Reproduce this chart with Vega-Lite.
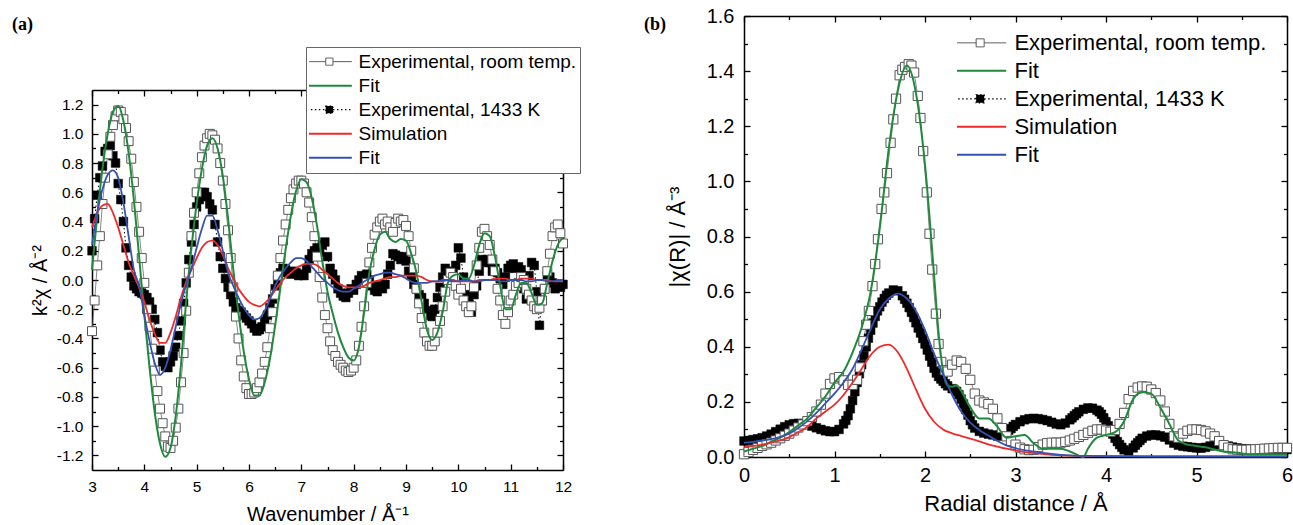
{
"$schema": "https://vega.github.io/schema/vega-lite/v6.json",
"background": "white",
"padding": {"left": 12, "top": 6, "right": 2, "bottom": 3},
"config": {"font": "Liberation Sans", "view": {"stroke": null},
 "axis": {"domainColor": "black", "tickColor": "black", "labelColor": "black", "titleColor": "black", "grid": false, "labelFont": "Liberation Sans", "titleFont": "Liberation Sans", "titleFontWeight": "normal", "tickWidth": 1.3, "domainWidth": 1.5}},
"datasets": {
"art": [{"x":3.00,"y":-0.35},{"x":3.05,"y":-0.14},{"x":3.10,"y":0.10},{"x":3.15,"y":0.30},{"x":3.20,"y":0.52},{"x":3.25,"y":0.70},{"x":3.30,"y":0.86},{"x":3.35,"y":0.98},{"x":3.40,"y":1.06},{"x":3.45,"y":1.12},{"x":3.50,"y":1.16},{"x":3.55,"y":1.15},{"x":3.60,"y":1.10},{"x":3.65,"y":1.04},{"x":3.70,"y":0.95},{"x":3.75,"y":0.83},{"x":3.80,"y":0.67},{"x":3.85,"y":0.50},{"x":3.90,"y":0.33},{"x":3.95,"y":0.15},{"x":4.00,"y":-0.02},{"x":4.05,"y":-0.20},{"x":4.10,"y":-0.32},{"x":4.15,"y":-0.47},{"x":4.20,"y":-0.62},{"x":4.25,"y":-0.76},{"x":4.30,"y":-0.88},{"x":4.35,"y":-0.98},{"x":4.40,"y":-1.07},{"x":4.45,"y":-1.14},{"x":4.50,"y":-1.15},{"x":4.55,"y":-1.10},{"x":4.60,"y":-1.01},{"x":4.65,"y":-0.88},{"x":4.70,"y":-0.70},{"x":4.75,"y":-0.50},{"x":4.80,"y":-0.21},{"x":4.85,"y":0.05},{"x":4.90,"y":0.30},{"x":4.95,"y":0.46},{"x":5.00,"y":0.60},{"x":5.05,"y":0.73},{"x":5.10,"y":0.84},{"x":5.15,"y":0.92},{"x":5.20,"y":0.97},{"x":5.25,"y":1.00},{"x":5.30,"y":0.99},{"x":5.35,"y":0.96},{"x":5.40,"y":0.90},{"x":5.45,"y":0.80},{"x":5.50,"y":0.68},{"x":5.55,"y":0.52},{"x":5.60,"y":0.34},{"x":5.65,"y":0.15},{"x":5.70,"y":-0.05},{"x":5.75,"y":-0.25},{"x":5.80,"y":-0.40},{"x":5.85,"y":-0.55},{"x":5.90,"y":-0.66},{"x":5.95,"y":-0.74},{"x":6.00,"y":-0.78},{"x":6.05,"y":-0.78},{"x":6.10,"y":-0.77},{"x":6.15,"y":-0.74},{"x":6.20,"y":-0.70},{"x":6.25,"y":-0.64},{"x":6.30,"y":-0.56},{"x":6.35,"y":-0.46},{"x":6.40,"y":-0.33},{"x":6.45,"y":-0.22},{"x":6.50,"y":-0.10},{"x":6.55,"y":0.03},{"x":6.60,"y":0.15},{"x":6.65,"y":0.27},{"x":6.70,"y":0.38},{"x":6.75,"y":0.48},{"x":6.80,"y":0.56},{"x":6.85,"y":0.62},{"x":6.90,"y":0.66},{"x":6.95,"y":0.68},{"x":7.00,"y":0.68},{"x":7.05,"y":0.66},{"x":7.10,"y":0.60},{"x":7.15,"y":0.53},{"x":7.20,"y":0.43},{"x":7.25,"y":0.30},{"x":7.30,"y":0.16},{"x":7.35,"y":0.02},{"x":7.40,"y":-0.12},{"x":7.45,"y":-0.24},{"x":7.50,"y":-0.33},{"x":7.55,"y":-0.42},{"x":7.60,"y":-0.48},{"x":7.65,"y":-0.52},{"x":7.70,"y":-0.56},{"x":7.75,"y":-0.58},{"x":7.80,"y":-0.60},{"x":7.85,"y":-0.62},{"x":7.90,"y":-0.63},{"x":7.95,"y":-0.62},{"x":8.00,"y":-0.60},{"x":8.05,"y":-0.55},{"x":8.10,"y":-0.45},{"x":8.15,"y":-0.32},{"x":8.20,"y":-0.18},{"x":8.25,"y":-0.02},{"x":8.30,"y":0.12},{"x":8.35,"y":0.22},{"x":8.40,"y":0.31},{"x":8.45,"y":0.36},{"x":8.50,"y":0.40},{"x":8.55,"y":0.42},{"x":8.60,"y":0.38},{"x":8.65,"y":0.40},{"x":8.70,"y":0.36},{"x":8.75,"y":0.33},{"x":8.80,"y":0.39},{"x":8.85,"y":0.42},{"x":8.90,"y":0.40},{"x":8.95,"y":0.41},{"x":9.00,"y":0.37},{"x":9.05,"y":0.30},{"x":9.10,"y":0.20},{"x":9.15,"y":0.08},{"x":9.20,"y":-0.06},{"x":9.25,"y":-0.16},{"x":9.30,"y":-0.26},{"x":9.35,"y":-0.36},{"x":9.40,"y":-0.42},{"x":9.45,"y":-0.45},{"x":9.50,"y":-0.45},{"x":9.55,"y":-0.42},{"x":9.60,"y":-0.36},{"x":9.65,"y":-0.28},{"x":9.70,"y":-0.18},{"x":9.75,"y":-0.08},{"x":9.80,"y":0.00},{"x":9.85,"y":0.05},{"x":9.90,"y":0.02},{"x":9.95,"y":-0.04},{"x":10.00,"y":-0.10},{"x":10.05,"y":-0.06},{"x":10.10,"y":-0.14},{"x":10.15,"y":-0.18},{"x":10.20,"y":-0.22},{"x":10.25,"y":-0.18},{"x":10.30,"y":-0.05},{"x":10.35,"y":0.10},{"x":10.40,"y":0.22},{"x":10.45,"y":0.33},{"x":10.50,"y":0.35},{"x":10.55,"y":0.30},{"x":10.60,"y":0.24},{"x":10.65,"y":0.14},{"x":10.70,"y":0.06},{"x":10.75,"y":-0.06},{"x":10.80,"y":-0.14},{"x":10.85,"y":-0.24},{"x":10.90,"y":-0.30},{"x":10.95,"y":-0.22},{"x":11.00,"y":-0.14},{"x":11.05,"y":-0.10},{"x":11.10,"y":-0.04},{"x":11.15,"y":-0.02},{"x":11.20,"y":0.02},{"x":11.25,"y":0.00},{"x":11.30,"y":-0.06},{"x":11.35,"y":-0.10},{"x":11.40,"y":-0.14},{"x":11.45,"y":-0.18},{"x":11.50,"y":-0.20},{"x":11.55,"y":-0.19},{"x":11.60,"y":-0.14},{"x":11.65,"y":-0.06},{"x":11.70,"y":0.06},{"x":11.75,"y":0.18},{"x":11.80,"y":0.30},{"x":11.85,"y":0.36},{"x":11.90,"y":0.38},{"x":11.95,"y":0.32},{"x":12.00,"y":0.25}],
"ahk": [{"x":3.00,"y":0.20},{"x":3.05,"y":0.42},{"x":3.10,"y":0.58},{"x":3.15,"y":0.70},{"x":3.20,"y":0.78},{"x":3.25,"y":0.88},{"x":3.30,"y":0.90},{"x":3.35,"y":0.92},{"x":3.40,"y":0.85},{"x":3.45,"y":0.80},{"x":3.50,"y":0.66},{"x":3.55,"y":0.55},{"x":3.60,"y":0.40},{"x":3.65,"y":0.22},{"x":3.70,"y":0.10},{"x":3.75,"y":0.02},{"x":3.80,"y":-0.04},{"x":3.85,"y":-0.06},{"x":3.90,"y":-0.08},{"x":3.95,"y":-0.09},{"x":4.00,"y":-0.10},{"x":4.05,"y":-0.12},{"x":4.10,"y":-0.15},{"x":4.15,"y":-0.20},{"x":4.20,"y":-0.27},{"x":4.25,"y":-0.36},{"x":4.30,"y":-0.48},{"x":4.35,"y":-0.56},{"x":4.40,"y":-0.59},{"x":4.45,"y":-0.60},{"x":4.50,"y":-0.56},{"x":4.55,"y":-0.52},{"x":4.60,"y":-0.46},{"x":4.65,"y":-0.38},{"x":4.70,"y":-0.28},{"x":4.75,"y":-0.16},{"x":4.80,"y":-0.02},{"x":4.85,"y":0.14},{"x":4.90,"y":0.26},{"x":4.95,"y":0.38},{"x":5.00,"y":0.50},{"x":5.05,"y":0.55},{"x":5.10,"y":0.60},{"x":5.15,"y":0.60},{"x":5.20,"y":0.57},{"x":5.25,"y":0.52},{"x":5.30,"y":0.48},{"x":5.35,"y":0.38},{"x":5.40,"y":0.26},{"x":5.45,"y":0.16},{"x":5.50,"y":0.08},{"x":5.55,"y":0.01},{"x":5.60,"y":-0.05},{"x":5.65,"y":-0.10},{"x":5.70,"y":-0.15},{"x":5.75,"y":-0.19},{"x":5.80,"y":-0.21},{"x":5.85,"y":-0.22},{"x":5.90,"y":-0.24},{"x":5.95,"y":-0.26},{"x":6.00,"y":-0.28},{"x":6.05,"y":-0.30},{"x":6.10,"y":-0.33},{"x":6.15,"y":-0.35},{"x":6.20,"y":-0.34},{"x":6.25,"y":-0.32},{"x":6.30,"y":-0.28},{"x":6.35,"y":-0.24},{"x":6.40,"y":-0.19},{"x":6.45,"y":-0.13},{"x":6.50,"y":-0.06},{"x":6.55,"y":0.00},{"x":6.60,"y":0.05},{"x":6.65,"y":0.08},{"x":6.70,"y":0.07},{"x":6.75,"y":0.05},{"x":6.80,"y":0.04},{"x":6.85,"y":0.06},{"x":6.90,"y":0.05},{"x":6.95,"y":0.03},{"x":7.00,"y":0.04},{"x":7.05,"y":0.03},{"x":7.10,"y":0.08},{"x":7.15,"y":0.14},{"x":7.20,"y":0.18},{"x":7.25,"y":0.20},{"x":7.30,"y":0.22},{"x":7.35,"y":0.19},{"x":7.40,"y":0.24},{"x":7.45,"y":0.26},{"x":7.50,"y":0.16},{"x":7.55,"y":0.08},{"x":7.60,"y":0.04},{"x":7.65,"y":0.00},{"x":7.70,"y":-0.06},{"x":7.75,"y":-0.09},{"x":7.80,"y":-0.11},{"x":7.85,"y":-0.12},{"x":7.90,"y":-0.09},{"x":7.95,"y":-0.06},{"x":8.00,"y":-0.07},{"x":8.05,"y":-0.03},{"x":8.10,"y":0.00},{"x":8.15,"y":0.03},{"x":8.20,"y":0.02},{"x":8.25,"y":0.04},{"x":8.30,"y":0.00},{"x":8.35,"y":-0.04},{"x":8.40,"y":-0.07},{"x":8.45,"y":-0.08},{"x":8.50,"y":-0.04},{"x":8.55,"y":-0.06},{"x":8.60,"y":-0.03},{"x":8.65,"y":0.04},{"x":8.70,"y":0.10},{"x":8.75,"y":0.18},{"x":8.80,"y":0.17},{"x":8.85,"y":0.16},{"x":8.90,"y":0.14},{"x":8.95,"y":0.16},{"x":9.00,"y":0.13},{"x":9.05,"y":0.06},{"x":9.10,"y":0.03},{"x":9.15,"y":-0.03},{"x":9.20,"y":-0.06},{"x":9.25,"y":-0.10},{"x":9.30,"y":-0.12},{"x":9.35,"y":-0.16},{"x":9.40,"y":-0.21},{"x":9.45,"y":-0.24},{"x":9.50,"y":-0.25},{"x":9.55,"y":-0.20},{"x":9.60,"y":-0.12},{"x":9.65,"y":-0.05},{"x":9.70,"y":0.02},{"x":9.75,"y":0.08},{"x":9.80,"y":0.04},{"x":9.85,"y":0.06},{"x":9.90,"y":0.04},{"x":9.95,"y":0.10},{"x":10.00,"y":0.22},{"x":10.05,"y":0.15},{"x":10.10,"y":0.02},{"x":10.15,"y":-0.10},{"x":10.20,"y":-0.16},{"x":10.25,"y":-0.22},{"x":10.30,"y":-0.10},{"x":10.35,"y":-0.04},{"x":10.40,"y":0.06},{"x":10.45,"y":0.14},{"x":10.50,"y":0.12},{"x":10.55,"y":0.14},{"x":10.60,"y":0.12},{"x":10.65,"y":0.06},{"x":10.70,"y":0.08},{"x":10.75,"y":0.05},{"x":10.80,"y":0.01},{"x":10.85,"y":-0.03},{"x":10.90,"y":0.02},{"x":10.95,"y":0.08},{"x":11.00,"y":0.10},{"x":11.05,"y":0.11},{"x":11.10,"y":0.08},{"x":11.15,"y":0.09},{"x":11.20,"y":0.07},{"x":11.25,"y":-0.06},{"x":11.30,"y":-0.13},{"x":11.35,"y":0.03},{"x":11.40,"y":0.12},{"x":11.45,"y":0.10},{"x":11.50,"y":-0.08},{"x":11.55,"y":-0.31},{"x":11.60,"y":-0.14},{"x":11.65,"y":-0.06},{"x":11.70,"y":0.03},{"x":11.75,"y":0.02},{"x":11.80,"y":-0.02},{"x":11.85,"y":-0.06},{"x":11.90,"y":-0.04},{"x":11.95,"y":-0.05},{"x":12.00,"y":-0.03}],
"ag": [{"x":3.0,"y":0.07},{"x":3.1,"y":0.44},{"x":3.2,"y":0.76},{"x":3.3,"y":1.00},{"x":3.4,"y":1.15},{"x":3.5,"y":1.19},{"x":3.6,"y":1.09},{"x":3.7,"y":0.87},{"x":3.8,"y":0.55},{"x":3.9,"y":0.16},{"x":4.0,"y":-0.24},{"x":4.1,"y":-0.60},{"x":4.2,"y":-0.91},{"x":4.3,"y":-1.12},{"x":4.4,"y":-1.21},{"x":4.5,"y":-1.15},{"x":4.6,"y":-0.93},{"x":4.7,"y":-0.58},{"x":4.8,"y":-0.14},{"x":4.9,"y":0.22},{"x":5.0,"y":0.52},{"x":5.1,"y":0.76},{"x":5.2,"y":0.92},{"x":5.3,"y":0.97},{"x":5.4,"y":0.90},{"x":5.5,"y":0.71},{"x":5.6,"y":0.42},{"x":5.7,"y":0.07},{"x":5.8,"y":-0.23},{"x":5.9,"y":-0.49},{"x":6.0,"y":-0.68},{"x":6.1,"y":-0.79},{"x":6.2,"y":-0.79},{"x":6.3,"y":-0.70},{"x":6.4,"y":-0.54},{"x":6.5,"y":-0.31},{"x":6.6,"y":-0.05},{"x":6.7,"y":0.21},{"x":6.8,"y":0.44},{"x":6.9,"y":0.61},{"x":7.0,"y":0.69},{"x":7.1,"y":0.67},{"x":7.2,"y":0.56},{"x":7.3,"y":0.37},{"x":7.4,"y":0.13},{"x":7.5,"y":-0.08},{"x":7.6,"y":-0.23},{"x":7.7,"y":-0.36},{"x":7.8,"y":-0.46},{"x":7.9,"y":-0.53},{"x":8.0,"y":-0.55},{"x":8.1,"y":-0.46},{"x":8.2,"y":-0.22},{"x":8.3,"y":0.05},{"x":8.4,"y":0.21},{"x":8.5,"y":0.31},{"x":8.6,"y":0.33},{"x":8.7,"y":0.28},{"x":8.8,"y":0.26},{"x":8.9,"y":0.28},{"x":9.0,"y":0.27},{"x":9.1,"y":0.18},{"x":9.2,"y":0.05},{"x":9.3,"y":-0.15},{"x":9.4,"y":-0.34},{"x":9.5,"y":-0.41},{"x":9.6,"y":-0.36},{"x":9.7,"y":-0.22},{"x":9.8,"y":-0.02},{"x":9.9,"y":0.03},{"x":10.0,"y":0.04},{"x":10.1,"y":0.01},{"x":10.2,"y":0.01},{"x":10.3,"y":0.10},{"x":10.4,"y":0.24},{"x":10.5,"y":0.32},{"x":10.6,"y":0.30},{"x":10.7,"y":0.16},{"x":10.8,"y":-0.04},{"x":10.9,"y":-0.20},{"x":11.0,"y":-0.20},{"x":11.1,"y":-0.10},{"x":11.2,"y":-0.02},{"x":11.3,"y":-0.02},{"x":11.4,"y":-0.09},{"x":11.5,"y":-0.17},{"x":11.6,"y":-0.16},{"x":11.7,"y":-0.02},{"x":11.8,"y":0.13},{"x":11.9,"y":0.24},{"x":12.0,"y":0.29}],
"ar": [{"x":3.0,"y":0.36},{"x":3.1,"y":0.46},{"x":3.2,"y":0.51},{"x":3.3,"y":0.52},{"x":3.4,"y":0.46},{"x":3.5,"y":0.36},{"x":3.6,"y":0.24},{"x":3.7,"y":0.12},{"x":3.8,"y":0.03},{"x":3.9,"y":-0.05},{"x":4.0,"y":-0.15},{"x":4.1,"y":-0.27},{"x":4.2,"y":-0.37},{"x":4.3,"y":-0.43},{"x":4.4,"y":-0.43},{"x":4.5,"y":-0.36},{"x":4.6,"y":-0.25},{"x":4.7,"y":-0.12},{"x":4.8,"y":-0.01},{"x":4.9,"y":0.07},{"x":5.0,"y":0.15},{"x":5.1,"y":0.22},{"x":5.2,"y":0.26},{"x":5.3,"y":0.27},{"x":5.4,"y":0.24},{"x":5.5,"y":0.17},{"x":5.6,"y":0.08},{"x":5.7,"y":0.01},{"x":5.8,"y":-0.06},{"x":5.9,"y":-0.11},{"x":6.0,"y":-0.15},{"x":6.1,"y":-0.17},{"x":6.2,"y":-0.18},{"x":6.3,"y":-0.16},{"x":6.4,"y":-0.12},{"x":6.5,"y":-0.07},{"x":6.6,"y":-0.02},{"x":6.7,"y":0.02},{"x":6.8,"y":0.05},{"x":6.9,"y":0.08},{"x":7.0,"y":0.10},{"x":7.1,"y":0.11},{"x":7.2,"y":0.11},{"x":7.3,"y":0.10},{"x":7.4,"y":0.07},{"x":7.5,"y":0.04},{"x":7.6,"y":0.01},{"x":7.7,"y":-0.02},{"x":7.8,"y":-0.04},{"x":7.9,"y":-0.05},{"x":8.0,"y":-0.05},{"x":8.1,"y":-0.05},{"x":8.2,"y":-0.04},{"x":8.3,"y":-0.02},{"x":8.4,"y":-0.01},{"x":8.5,"y":0.0},{"x":8.6,"y":0.01},{"x":8.7,"y":0.02},{"x":8.8,"y":0.02},{"x":8.9,"y":0.03},{"x":9.0,"y":0.03},{"x":9.1,"y":0.03},{"x":9.2,"y":0.03},{"x":9.3,"y":0.02},{"x":9.4,"y":0.0},{"x":9.5,"y":-0.01},{"x":9.6,"y":-0.01},{"x":9.7,"y":-0.01},{"x":9.8,"y":0.0},{"x":9.9,"y":0.0},{"x":10.0,"y":-0.01},{"x":10.1,"y":-0.01},{"x":10.2,"y":-0.01},{"x":10.3,"y":-0.01},{"x":10.4,"y":0.0},{"x":10.5,"y":0.0},{"x":10.6,"y":0.0},{"x":10.7,"y":0.01},{"x":10.8,"y":0.01},{"x":10.9,"y":0.01},{"x":11.0,"y":0.0},{"x":11.1,"y":0.0},{"x":11.2,"y":0.01},{"x":11.3,"y":0.01},{"x":11.4,"y":0.01},{"x":11.5,"y":0.0},{"x":11.6,"y":0.0},{"x":11.7,"y":0.0},{"x":11.8,"y":-0.01},{"x":11.9,"y":-0.01},{"x":12.0,"y":-0.01}],
"ab": [{"x":3.0,"y":0.24},{"x":3.1,"y":0.46},{"x":3.2,"y":0.62},{"x":3.3,"y":0.72},{"x":3.4,"y":0.75},{"x":3.5,"y":0.70},{"x":3.6,"y":0.53},{"x":3.7,"y":0.30},{"x":3.8,"y":0.07},{"x":3.9,"y":-0.04},{"x":4.0,"y":-0.24},{"x":4.1,"y":-0.42},{"x":4.2,"y":-0.57},{"x":4.3,"y":-0.65},{"x":4.4,"y":-0.60},{"x":4.5,"y":-0.48},{"x":4.6,"y":-0.32},{"x":4.7,"y":-0.16},{"x":4.8,"y":-0.03},{"x":4.9,"y":0.08},{"x":5.0,"y":0.22},{"x":5.1,"y":0.35},{"x":5.2,"y":0.44},{"x":5.3,"y":0.44},{"x":5.4,"y":0.34},{"x":5.5,"y":0.20},{"x":5.6,"y":0.05},{"x":5.7,"y":-0.04},{"x":5.8,"y":-0.12},{"x":5.9,"y":-0.19},{"x":6.0,"y":-0.24},{"x":6.1,"y":-0.27},{"x":6.2,"y":-0.26},{"x":6.3,"y":-0.21},{"x":6.4,"y":-0.13},{"x":6.5,"y":-0.04},{"x":6.6,"y":0.03},{"x":6.7,"y":0.08},{"x":6.8,"y":0.12},{"x":6.9,"y":0.15},{"x":7.0,"y":0.15},{"x":7.1,"y":0.13},{"x":7.2,"y":0.09},{"x":7.3,"y":0.05},{"x":7.4,"y":0.01},{"x":7.5,"y":-0.02},{"x":7.6,"y":-0.05},{"x":7.7,"y":-0.07},{"x":7.8,"y":-0.08},{"x":7.9,"y":-0.08},{"x":8.0,"y":-0.06},{"x":8.1,"y":-0.04},{"x":8.2,"y":-0.01},{"x":8.3,"y":0.01},{"x":8.4,"y":0.03},{"x":8.5,"y":0.04},{"x":8.6,"y":0.05},{"x":8.7,"y":0.05},{"x":8.8,"y":0.04},{"x":8.9,"y":0.03},{"x":9.0,"y":0.01},{"x":9.1,"y":-0.01},{"x":9.2,"y":-0.02},{"x":9.3,"y":-0.02},{"x":9.4,"y":-0.02},{"x":9.5,"y":-0.01},{"x":9.6,"y":-0.01},{"x":9.7,"y":0.0},{"x":9.8,"y":0.0},{"x":9.9,"y":-0.01},{"x":10.0,"y":-0.01},{"x":10.1,"y":0.0},{"x":10.2,"y":0.0},{"x":10.3,"y":-0.01},{"x":10.4,"y":-0.01},{"x":10.5,"y":0.0},{"x":10.6,"y":0.0},{"x":10.7,"y":0.0},{"x":10.8,"y":-0.01},{"x":10.9,"y":-0.01},{"x":11.0,"y":0.0},{"x":11.1,"y":0.0},{"x":11.2,"y":0.0},{"x":11.3,"y":-0.01},{"x":11.4,"y":-0.01},{"x":11.5,"y":0.0},{"x":11.6,"y":0.0},{"x":11.7,"y":-0.01},{"x":11.8,"y":-0.01},{"x":11.9,"y":0.0},{"x":12.0,"y":0.0}],
"brt": [{"x":0.00,"y":0.010},{"x":0.05,"y":0.018},{"x":0.10,"y":0.026},{"x":0.15,"y":0.033},{"x":0.20,"y":0.040},{"x":0.25,"y":0.046},{"x":0.30,"y":0.052},{"x":0.35,"y":0.060},{"x":0.40,"y":0.068},{"x":0.45,"y":0.077},{"x":0.50,"y":0.085},{"x":0.55,"y":0.096},{"x":0.60,"y":0.107},{"x":0.65,"y":0.118},{"x":0.70,"y":0.130},{"x":0.75,"y":0.145},{"x":0.80,"y":0.165},{"x":0.85,"y":0.190},{"x":0.90,"y":0.230},{"x":0.95,"y":0.265},{"x":1.00,"y":0.285},{"x":1.05,"y":0.290},{"x":1.10,"y":0.278},{"x":1.15,"y":0.262},{"x":1.20,"y":0.262},{"x":1.25,"y":0.280},{"x":1.28,"y":0.325},{"x":1.32,"y":0.420},{"x":1.35,"y":0.480},{"x":1.38,"y":0.530},{"x":1.42,"y":0.620},{"x":1.45,"y":0.700},{"x":1.48,"y":0.790},{"x":1.52,"y":0.900},{"x":1.55,"y":0.960},{"x":1.58,"y":1.030},{"x":1.62,"y":1.140},{"x":1.65,"y":1.225},{"x":1.68,"y":1.300},{"x":1.72,"y":1.385},{"x":1.75,"y":1.405},{"x":1.78,"y":1.415},{"x":1.82,"y":1.425},{"x":1.85,"y":1.420},{"x":1.88,"y":1.395},{"x":1.92,"y":1.310},{"x":1.95,"y":1.230},{"x":1.98,"y":1.110},{"x":2.02,"y":0.960},{"x":2.05,"y":0.810},{"x":2.08,"y":0.680},{"x":2.12,"y":0.520},{"x":2.15,"y":0.410},{"x":2.18,"y":0.345},{"x":2.22,"y":0.315},{"x":2.25,"y":0.310},{"x":2.30,"y":0.335},{"x":2.35,"y":0.350},{"x":2.40,"y":0.345},{"x":2.45,"y":0.320},{"x":2.50,"y":0.280},{"x":2.55,"y":0.230},{"x":2.60,"y":0.205},{"x":2.65,"y":0.198},{"x":2.70,"y":0.192},{"x":2.75,"y":0.175},{"x":2.80,"y":0.140},{"x":2.85,"y":0.105},{"x":2.90,"y":0.075},{"x":2.95,"y":0.058},{"x":3.00,"y":0.045},{"x":3.05,"y":0.034},{"x":3.10,"y":0.028},{"x":3.15,"y":0.025},{"x":3.20,"y":0.026},{"x":3.25,"y":0.036},{"x":3.30,"y":0.045},{"x":3.35,"y":0.050},{"x":3.40,"y":0.052},{"x":3.45,"y":0.052},{"x":3.50,"y":0.052},{"x":3.55,"y":0.055},{"x":3.60,"y":0.060},{"x":3.65,"y":0.066},{"x":3.70,"y":0.073},{"x":3.75,"y":0.080},{"x":3.80,"y":0.088},{"x":3.85,"y":0.095},{"x":3.90,"y":0.100},{"x":3.95,"y":0.100},{"x":4.00,"y":0.096},{"x":4.05,"y":0.092},{"x":4.10,"y":0.098},{"x":4.15,"y":0.120},{"x":4.20,"y":0.160},{"x":4.25,"y":0.210},{"x":4.30,"y":0.240},{"x":4.35,"y":0.252},{"x":4.40,"y":0.256},{"x":4.45,"y":0.255},{"x":4.50,"y":0.245},{"x":4.55,"y":0.232},{"x":4.60,"y":0.205},{"x":4.65,"y":0.165},{"x":4.70,"y":0.120},{"x":4.75,"y":0.075},{"x":4.80,"y":0.070},{"x":4.85,"y":0.085},{"x":4.90,"y":0.095},{"x":4.95,"y":0.100},{"x":5.00,"y":0.100},{"x":5.05,"y":0.098},{"x":5.10,"y":0.093},{"x":5.15,"y":0.085},{"x":5.20,"y":0.075},{"x":5.25,"y":0.058},{"x":5.30,"y":0.043},{"x":5.35,"y":0.034},{"x":5.40,"y":0.028},{"x":5.45,"y":0.027},{"x":5.50,"y":0.026},{"x":5.55,"y":0.026},{"x":5.60,"y":0.027},{"x":5.65,"y":0.028},{"x":5.70,"y":0.029},{"x":5.75,"y":0.030},{"x":5.80,"y":0.031},{"x":5.85,"y":0.032},{"x":5.90,"y":0.033},{"x":5.95,"y":0.033},{"x":6.00,"y":0.033}],
"bhk": [{"x":0.00,"y":0.058},{"x":0.05,"y":0.060},{"x":0.10,"y":0.063},{"x":0.15,"y":0.066},{"x":0.20,"y":0.070},{"x":0.25,"y":0.076},{"x":0.30,"y":0.083},{"x":0.35,"y":0.092},{"x":0.40,"y":0.101},{"x":0.45,"y":0.110},{"x":0.50,"y":0.117},{"x":0.55,"y":0.121},{"x":0.60,"y":0.122},{"x":0.65,"y":0.121},{"x":0.70,"y":0.118},{"x":0.75,"y":0.112},{"x":0.80,"y":0.106},{"x":0.85,"y":0.100},{"x":0.90,"y":0.095},{"x":0.95,"y":0.092},{"x":1.00,"y":0.092},{"x":1.05,"y":0.100},{"x":1.10,"y":0.120},{"x":1.125,"y":0.133},{"x":1.15,"y":0.150},{"x":1.175,"y":0.175},{"x":1.20,"y":0.205},{"x":1.225,"y":0.237},{"x":1.25,"y":0.270},{"x":1.275,"y":0.302},{"x":1.30,"y":0.335},{"x":1.325,"y":0.368},{"x":1.35,"y":0.400},{"x":1.375,"y":0.431},{"x":1.40,"y":0.460},{"x":1.425,"y":0.486},{"x":1.45,"y":0.510},{"x":1.475,"y":0.530},{"x":1.50,"y":0.545},{"x":1.525,"y":0.562},{"x":1.55,"y":0.575},{"x":1.575,"y":0.587},{"x":1.60,"y":0.595},{"x":1.65,"y":0.606},{"x":1.70,"y":0.603},{"x":1.75,"y":0.585},{"x":1.775,"y":0.572},{"x":1.80,"y":0.558},{"x":1.825,"y":0.542},{"x":1.85,"y":0.525},{"x":1.875,"y":0.506},{"x":1.90,"y":0.487},{"x":1.925,"y":0.468},{"x":1.95,"y":0.450},{"x":1.975,"y":0.430},{"x":2.00,"y":0.410},{"x":2.025,"y":0.388},{"x":2.05,"y":0.366},{"x":2.075,"y":0.344},{"x":2.10,"y":0.322},{"x":2.125,"y":0.305},{"x":2.15,"y":0.292},{"x":2.175,"y":0.283},{"x":2.20,"y":0.275},{"x":2.225,"y":0.266},{"x":2.25,"y":0.258},{"x":2.30,"y":0.248},{"x":2.35,"y":0.238},{"x":2.375,"y":0.226},{"x":2.40,"y":0.210},{"x":2.425,"y":0.192},{"x":2.45,"y":0.172},{"x":2.475,"y":0.152},{"x":2.50,"y":0.132},{"x":2.525,"y":0.117},{"x":2.55,"y":0.105},{"x":2.60,"y":0.093},{"x":2.65,"y":0.087},{"x":2.70,"y":0.083},{"x":2.75,"y":0.080},{"x":2.80,"y":0.076},{"x":2.85,"y":0.078},{"x":2.875,"y":0.083},{"x":2.90,"y":0.090},{"x":2.925,"y":0.097},{"x":2.95,"y":0.103},{"x":2.975,"y":0.111},{"x":3.00,"y":0.118},{"x":3.05,"y":0.128},{"x":3.10,"y":0.135},{"x":3.15,"y":0.139},{"x":3.20,"y":0.140},{"x":3.25,"y":0.139},{"x":3.30,"y":0.136},{"x":3.35,"y":0.132},{"x":3.40,"y":0.126},{"x":3.45,"y":0.120},{"x":3.50,"y":0.117},{"x":3.55,"y":0.123},{"x":3.60,"y":0.135},{"x":3.625,"y":0.142},{"x":3.65,"y":0.150},{"x":3.675,"y":0.157},{"x":3.70,"y":0.164},{"x":3.75,"y":0.173},{"x":3.80,"y":0.178},{"x":3.85,"y":0.177},{"x":3.90,"y":0.170},{"x":3.925,"y":0.164},{"x":3.95,"y":0.155},{"x":3.975,"y":0.142},{"x":4.00,"y":0.128},{"x":4.025,"y":0.113},{"x":4.05,"y":0.098},{"x":4.075,"y":0.083},{"x":4.10,"y":0.068},{"x":4.125,"y":0.056},{"x":4.15,"y":0.045},{"x":4.175,"y":0.035},{"x":4.20,"y":0.026},{"x":4.25,"y":0.020},{"x":4.30,"y":0.033},{"x":4.325,"y":0.043},{"x":4.35,"y":0.052},{"x":4.375,"y":0.060},{"x":4.40,"y":0.068},{"x":4.45,"y":0.076},{"x":4.50,"y":0.080},{"x":4.55,"y":0.080},{"x":4.60,"y":0.077},{"x":4.65,"y":0.072},{"x":4.70,"y":0.062},{"x":4.75,"y":0.050},{"x":4.80,"y":0.043},{"x":4.85,"y":0.039},{"x":4.90,"y":0.037},{"x":4.95,"y":0.035},{"x":5.00,"y":0.033},{"x":5.05,"y":0.032},{"x":5.10,"y":0.035},{"x":5.15,"y":0.040},{"x":5.20,"y":0.044},{"x":5.25,"y":0.045},{"x":5.30,"y":0.043},{"x":5.35,"y":0.040},{"x":5.40,"y":0.036},{"x":5.45,"y":0.033},{"x":5.50,"y":0.030},{"x":5.55,"y":0.029},{"x":5.60,"y":0.028},{"x":5.65,"y":0.028},{"x":5.70,"y":0.027},{"x":5.75,"y":0.027},{"x":5.80,"y":0.027},{"x":5.85,"y":0.027},{"x":5.90,"y":0.027},{"x":5.95,"y":0.027},{"x":6.00,"y":0.027}],
"bg": [{"x":0.0,"y":0.02},{"x":0.1,"y":0.03},{"x":0.2,"y":0.04},{"x":0.3,"y":0.055},{"x":0.4,"y":0.07},{"x":0.5,"y":0.09},{"x":0.6,"y":0.115},{"x":0.7,"y":0.14},{"x":0.8,"y":0.18},{"x":0.9,"y":0.22},{"x":1.0,"y":0.27},{"x":1.1,"y":0.31},{"x":1.2,"y":0.38},{"x":1.3,"y":0.47},{"x":1.4,"y":0.60},{"x":1.5,"y":0.83},{"x":1.6,"y":1.12},{"x":1.7,"y":1.33},{"x":1.8,"y":1.42},{"x":1.9,"y":1.32},{"x":2.0,"y":1.06},{"x":2.1,"y":0.66},{"x":2.15,"y":0.45},{"x":2.2,"y":0.31},{"x":2.25,"y":0.26},{"x":2.3,"y":0.255},{"x":2.35,"y":0.26},{"x":2.4,"y":0.24},{"x":2.5,"y":0.18},{"x":2.6,"y":0.14},{"x":2.7,"y":0.14},{"x":2.8,"y":0.11},{"x":2.9,"y":0.07},{"x":3.0,"y":0.075},{"x":3.1,"y":0.08},{"x":3.2,"y":0.05},{"x":3.3,"y":0.03},{"x":3.4,"y":0.03},{"x":3.5,"y":0.03},{"x":3.6,"y":0.02},{"x":3.7,"y":0.005},{"x":3.75,"y":0.0},{"x":3.8,"y":0.03},{"x":3.9,"y":0.07},{"x":4.0,"y":0.08},{"x":4.1,"y":0.09},{"x":4.2,"y":0.13},{"x":4.3,"y":0.21},{"x":4.4,"y":0.235},{"x":4.5,"y":0.23},{"x":4.6,"y":0.18},{"x":4.7,"y":0.12},{"x":4.8,"y":0.06},{"x":4.9,"y":0.045},{"x":5.0,"y":0.04},{"x":5.1,"y":0.035},{"x":5.2,"y":0.027},{"x":5.3,"y":0.02},{"x":5.4,"y":0.017},{"x":5.5,"y":0.013},{"x":5.6,"y":0.01},{"x":5.7,"y":0.01},{"x":5.8,"y":0.01},{"x":5.9,"y":0.01},{"x":6.0,"y":0.01}],
"br": [{"x":0.0,"y":0.035},{"x":0.1,"y":0.04},{"x":0.2,"y":0.045},{"x":0.3,"y":0.052},{"x":0.4,"y":0.06},{"x":0.5,"y":0.072},{"x":0.6,"y":0.09},{"x":0.7,"y":0.11},{"x":0.8,"y":0.14},{"x":0.9,"y":0.165},{"x":1.0,"y":0.19},{"x":1.1,"y":0.225},{"x":1.2,"y":0.27},{"x":1.3,"y":0.32},{"x":1.4,"y":0.37},{"x":1.5,"y":0.40},{"x":1.6,"y":0.408},{"x":1.7,"y":0.38},{"x":1.8,"y":0.32},{"x":1.9,"y":0.245},{"x":2.0,"y":0.175},{"x":2.1,"y":0.128},{"x":2.2,"y":0.10},{"x":2.3,"y":0.086},{"x":2.4,"y":0.076},{"x":2.5,"y":0.067},{"x":2.6,"y":0.057},{"x":2.7,"y":0.046},{"x":2.8,"y":0.038},{"x":2.9,"y":0.03},{"x":3.0,"y":0.024},{"x":3.1,"y":0.018},{"x":3.2,"y":0.014},{"x":3.3,"y":0.011},{"x":3.4,"y":0.008},{"x":3.5,"y":0.006},{"x":3.6,"y":0.005},{"x":3.8,"y":0.004},{"x":4.0,"y":0.003},{"x":4.5,"y":0.002},{"x":5.0,"y":0.002},{"x":5.5,"y":0.002},{"x":6.0,"y":0.002}],
"bb": [{"x":0.0,"y":0.052},{"x":0.1,"y":0.055},{"x":0.2,"y":0.06},{"x":0.3,"y":0.065},{"x":0.4,"y":0.073},{"x":0.5,"y":0.085},{"x":0.6,"y":0.105},{"x":0.7,"y":0.13},{"x":0.8,"y":0.16},{"x":0.9,"y":0.195},{"x":1.0,"y":0.23},{"x":1.1,"y":0.27},{"x":1.2,"y":0.32},{"x":1.3,"y":0.39},{"x":1.4,"y":0.465},{"x":1.5,"y":0.535},{"x":1.6,"y":0.575},{"x":1.7,"y":0.593},{"x":1.8,"y":0.575},{"x":1.9,"y":0.53},{"x":2.0,"y":0.46},{"x":2.1,"y":0.375},{"x":2.2,"y":0.30},{"x":2.3,"y":0.225},{"x":2.4,"y":0.165},{"x":2.5,"y":0.125},{"x":2.6,"y":0.098},{"x":2.7,"y":0.078},{"x":2.8,"y":0.058},{"x":2.9,"y":0.042},{"x":3.0,"y":0.032},{"x":3.1,"y":0.025},{"x":3.2,"y":0.02},{"x":3.3,"y":0.015},{"x":3.4,"y":0.011},{"x":3.5,"y":0.008},{"x":3.6,"y":0.006},{"x":3.8,"y":0.004},{"x":4.0,"y":0.003},{"x":4.5,"y":0.002},{"x":5.0,"y":0.002},{"x":5.5,"y":0.002},{"x":6.0,"y":0.002}]
},
"spacing": 63,
"resolve": {"scale": {"color": "independent"}, "legend": {"color": "independent"}},
"hconcat": [
{
 "width": 471, "height": 464,
 "title": {"text": "(a)", "orient": "top", "anchor": "start", "frame": "group", "offset": 0, "dx": -80, "dy": 46, "baseline": "bottom", "font": "Liberation Serif", "fontWeight": "bold", "fontSize": 18, "color": "black"},
 "resolve": {"axis": {"x": "independent", "y": "independent"}},
 "layer": [
  {"data": {"name": "art"}, "mark": {"type": "line", "strokeWidth": 0.7},
   "encoding": {
    "x": {"field": "x", "type": "quantitative", "scale": {"domain": [3, 12], "nice": false, "zero": false},
     "axis": {"orient": "bottom", "values": [3,4,5,6,7,8,9,10,11,12], "tickSize": -6, "labelPadding": 15, "labelFontSize": 15.5, "labelFlush": false, "labelOverlap": false, "title": "Wavenumber / Å⁻¹", "titleFontSize": 20, "titlePadding": 10}},
    "y": {"field": "y", "type": "quantitative", "scale": {"domain": [-1.3, 1.3], "range": [464, 84], "nice": false, "zero": false},
     "axis": {"orient": "left", "values": [-1.2,-1,-0.8,-0.6,-0.4,-0.2,0,0.2,0.4,0.6,0.8,1,1.2], "labelExpr": "replace(format(datum.value, '.1f'), '\u2212', '-')", "tickSize": -6, "labelPadding": 15, "labelFontSize": 15.5, "labelOverlap": false, "title": "k²χ / Å⁻²", "titleFontSize": 20, "titlePadding": 6}},
    "color": {"datum": "Experimental, room temp.", "type": "nominal",
     "scale": {"domain": ["Experimental, room temp.", "Fit", "Experimental, 1433 K", "Simulation", "Fit (1433 K)"], "range": ["#555555", "#1f8a3c", "#000000", "#ee2b2b", "#3552b3"]},
     "legend": {"orient": "none", "legendX": 214, "legendY": 41, "title": null, "fillColor": "white", "strokeColor": "#666666", "padding": 3,
      "labelFont": "Liberation Sans", "labelFontSize": 19, "labelColor": "black", "labelLimit": 400, "symbolSize": 543, "clipHeight": 23.3, "rowPadding": -1.5, "symbolOffset": 10.85, "labelOffset": 19.7,
      "labelExpr": "datum.label == 'Fit (1433 K)' ? 'Fit' : datum.label",
      "encode": {"symbols": {"update": {
        "shape": {"signal": "(datum.index == 0 || datum.index == 2) ? 'M-1.93,0H-0.31M0.31,0H1.93M-0.31,-0.31H0.31V0.31H-0.31Z' : 'M-1.93,0H1.93'"},
        "fill": {"signal": "datum.index == 0 ? 'white' : datum.index == 2 ? 'black' : 'transparent'"},
        "stroke": {"signal": "['#555555','#1f8a3c','#000000','#ee2b2b','#3552b3'][datum.index]"},
        "strokeWidth": {"signal": "datum.index == 0 ? 1 : datum.index == 2 ? 1.2 : 2"},
        "strokeDash": {"signal": "datum.index == 2 ? [1.5, 2.5] : [1, 0]"},
        "opacity": {"value": 1}}}}}}}},
  {"data": {"name": "ahk"}, "mark": {"type": "line", "strokeWidth": 1, "strokeDash": [1.5, 2.5]},
   "encoding": {
    "x": {"field": "x", "type": "quantitative", "scale": {"domain": [3, 12], "nice": false, "zero": false},
     "axis": {"orient": "bottom", "values": [3.5,4.5,5.5,6.5,7.5,8.5,9.5,10.5,11.5], "tickSize": -3.5, "domain": false, "labels": false, "title": null}},
    "y": {"field": "y", "type": "quantitative", "scale": {"domain": [-1.3, 1.3], "range": [464, 84], "nice": false, "zero": false},
     "axis": {"orient": "left", "values": [-1.1,-0.9,-0.7,-0.5,-0.3,-0.1,0.1,0.3,0.5,0.7,0.9,1.1], "tickSize": -3.5, "domain": false, "labels": false, "title": null}},
    "color": {"datum": "Experimental, 1433 K", "type": "nominal"}}},
  {"data": {"name": "ahk"}, "mark": {"type": "point", "shape": "square", "filled": true, "fill": "black", "stroke": "black", "strokeWidth": 0.5, "size": 75, "opacity": 1},
   "encoding": {
    "x": {"field": "x", "type": "quantitative", "scale": {"domain": [3, 12], "nice": false, "zero": false},
     "axis": {"orient": "top", "offset": -84, "values": [3,4,5,6,7,8,9,10,11,12], "tickSize": -6, "labels": false, "title": null}},
    "y": {"field": "y", "type": "quantitative", "scale": {"domain": [-1.3, 1.3], "range": [464, 84], "nice": false, "zero": false},
     "axis": {"orient": "right", "values": [-1.2,-1,-0.8,-0.6,-0.4,-0.2,0,0.2,0.4,0.6,0.8,1,1.2], "tickSize": -6, "labels": false, "title": null}}}},
  {"data": {"name": "art"}, "mark": {"type": "point", "shape": "square", "filled": true, "fill": "white", "stroke": "#555555", "strokeWidth": 1, "size": 80, "opacity": 1},
   "encoding": {
    "x": {"field": "x", "type": "quantitative", "scale": {"domain": [3, 12], "nice": false, "zero": false},
     "axis": {"orient": "top", "offset": -84, "values": [3.5,4.5,5.5,6.5,7.5,8.5,9.5,10.5,11.5], "tickSize": -3.5, "domain": false, "labels": false, "title": null}},
    "y": {"field": "y", "type": "quantitative", "scale": {"domain": [-1.3, 1.3], "range": [464, 84], "nice": false, "zero": false},
     "axis": {"orient": "right", "values": [-1.1,-0.9,-0.7,-0.5,-0.3,-0.1,0.1,0.3,0.5,0.7,0.9,1.1], "tickSize": -3.5, "domain": false, "labels": false, "title": null}}}},
  {"data": {"name": "ag"}, "mark": {"type": "line", "strokeWidth": 2, "interpolate": "monotone"},
   "encoding": {
    "x": {"field": "x", "type": "quantitative", "scale": {"domain": [3, 12], "nice": false, "zero": false}, "axis": null},
    "y": {"field": "y", "type": "quantitative", "scale": {"domain": [-1.3, 1.3], "range": [464, 84], "nice": false, "zero": false}, "axis": null},
    "color": {"datum": "Fit", "type": "nominal"}}},
  {"data": {"name": "ar"}, "mark": {"type": "line", "strokeWidth": 1.8, "interpolate": "monotone"},
   "encoding": {
    "x": {"field": "x", "type": "quantitative", "scale": {"domain": [3, 12], "nice": false, "zero": false}, "axis": null},
    "y": {"field": "y", "type": "quantitative", "scale": {"domain": [-1.3, 1.3], "range": [464, 84], "nice": false, "zero": false}, "axis": null},
    "color": {"datum": "Simulation", "type": "nominal"}}},
  {"data": {"name": "ab"}, "mark": {"type": "line", "strokeWidth": 1.8, "interpolate": "monotone"},
   "encoding": {
    "x": {"field": "x", "type": "quantitative", "scale": {"domain": [3, 12], "nice": false, "zero": false}, "axis": null},
    "y": {"field": "y", "type": "quantitative", "scale": {"domain": [-1.3, 1.3], "range": [464, 84], "nice": false, "zero": false}, "axis": null},
    "color": {"datum": "Fit (1433 K)", "type": "nominal"}}}
 ]
},
{
 "width": 543, "height": 451,
 "title": {"text": "(b)", "orient": "top", "anchor": "start", "frame": "group", "offset": 0, "dx": -100, "dy": 46, "baseline": "bottom", "font": "Liberation Serif", "fontWeight": "bold", "fontSize": 18, "color": "black"},
 "resolve": {"axis": {"x": "independent", "y": "independent"}},
 "layer": [
  {"data": {"name": "brt"}, "mark": {"type": "line", "strokeWidth": 0.7},
   "encoding": {
    "x": {"field": "x", "type": "quantitative", "scale": {"domain": [0, 6], "nice": false, "zero": false},
     "axis": {"orient": "bottom", "values": [0,1,2,3,4,5,6], "tickSize": -6, "labelPadding": 14, "labelFontSize": 20, "labelFlush": false, "labelOverlap": false, "title": "Radial distance  / Å", "titleFontSize": 22, "titlePadding": 8}},
    "y": {"field": "y", "type": "quantitative", "scale": {"domain": [0, 1.6], "range": [451, 10], "nice": false, "zero": false},
     "axis": {"orient": "left", "values": [0,0.2,0.4,0.6,0.8,1,1.2,1.4,1.6], "labelExpr": "format(datum.value, '.1f')", "tickSize": -6, "labelPadding": 16, "labelFontSize": 20, "labelOverlap": false, "title": "|χ(R)| / Å⁻³", "titleFontSize": 22, "titlePadding": 17}},
    "color": {"datum": "Experimental, room temp.", "type": "nominal",
     "scale": {"domain": ["Experimental, room temp.", "Fit", "Experimental, 1433 K", "Simulation", "Fit (1433 K)"], "range": ["#555555", "#1f8a3c", "#000000", "#ee2b2b", "#3552b3"]},
     "legend": {"orient": "none", "legendX": 213, "legendY": 23, "title": null, "padding": 0,
      "labelFont": "Liberation Sans", "labelFontSize": 22, "labelColor": "black", "labelLimit": 400, "symbolSize": 767, "clipHeight": 27.7, "rowPadding": 0, "symbolOffset": 12.15, "labelOffset": 23.3,
      "labelExpr": "datum.label == 'Fit (1433 K)' ? 'Fit' : datum.label",
      "encode": {"symbols": {"update": {
        "shape": {"signal": "(datum.index == 0 || datum.index == 2) ? 'M-1.877,0H-0.29M0.29,0H1.877M-0.29,-0.29H0.29V0.29H-0.29Z' : 'M-1.877,0H1.877'"},
        "fill": {"signal": "datum.index == 0 ? 'white' : datum.index == 2 ? 'black' : 'transparent'"},
        "stroke": {"signal": "['#555555','#1f8a3c','#000000','#ee2b2b','#3552b3'][datum.index]"},
        "strokeWidth": {"signal": "datum.index == 0 ? 1 : datum.index == 2 ? 1.2 : 2"},
        "strokeDash": {"signal": "datum.index == 2 ? [1.5, 2.5] : [1, 0]"},
        "opacity": {"value": 1}}}}}}}},
  {"data": {"name": "bhk"}, "mark": {"type": "line", "strokeWidth": 1, "strokeDash": [1.5, 2.5]},
   "encoding": {
    "x": {"field": "x", "type": "quantitative", "scale": {"domain": [0, 6], "nice": false, "zero": false},
     "axis": {"orient": "bottom", "values": [0.5,1.5,2.5,3.5,4.5,5.5], "tickSize": -3.5, "domain": false, "labels": false, "title": null}},
    "y": {"field": "y", "type": "quantitative", "scale": {"domain": [0, 1.6], "range": [451, 10], "nice": false, "zero": false},
     "axis": {"orient": "left", "values": [0.1,0.3,0.5,0.7,0.9,1.1,1.3,1.5], "tickSize": -3.5, "domain": false, "labels": false, "title": null}},
    "color": {"datum": "Experimental, 1433 K", "type": "nominal"}}},
  {"data": {"name": "bhk"}, "mark": {"type": "point", "shape": "square", "filled": true, "fill": "black", "stroke": "black", "strokeWidth": 0.5, "size": 75, "opacity": 1},
   "encoding": {
    "x": {"field": "x", "type": "quantitative", "scale": {"domain": [0, 6], "nice": false, "zero": false},
     "axis": {"orient": "top", "offset": -10, "values": [0,1,2,3,4,5,6], "tickSize": -6, "labels": false, "title": null}},
    "y": {"field": "y", "type": "quantitative", "scale": {"domain": [0, 1.6], "range": [451, 10], "nice": false, "zero": false},
     "axis": {"orient": "right", "values": [0,0.2,0.4,0.6,0.8,1,1.2,1.4,1.6], "tickSize": -6, "labels": false, "title": null}}}},
  {"data": {"name": "brt"}, "mark": {"type": "point", "shape": "square", "filled": true, "fill": "white", "stroke": "#555555", "strokeWidth": 1, "size": 85, "opacity": 1},
   "encoding": {
    "x": {"field": "x", "type": "quantitative", "scale": {"domain": [0, 6], "nice": false, "zero": false},
     "axis": {"orient": "top", "offset": -10, "values": [0.5,1.5,2.5,3.5,4.5,5.5], "tickSize": -3.5, "domain": false, "labels": false, "title": null}},
    "y": {"field": "y", "type": "quantitative", "scale": {"domain": [0, 1.6], "range": [451, 10], "nice": false, "zero": false},
     "axis": {"orient": "right", "values": [0.1,0.3,0.5,0.7,0.9,1.1,1.3,1.5], "tickSize": -3.5, "domain": false, "labels": false, "title": null}}}},
  {"data": {"name": "bg"}, "mark": {"type": "line", "strokeWidth": 2, "interpolate": "monotone"},
   "encoding": {
    "x": {"field": "x", "type": "quantitative", "scale": {"domain": [0, 6], "nice": false, "zero": false}, "axis": null},
    "y": {"field": "y", "type": "quantitative", "scale": {"domain": [0, 1.6], "range": [451, 10], "nice": false, "zero": false}, "axis": null},
    "color": {"datum": "Fit", "type": "nominal"}}},
  {"data": {"name": "br"}, "mark": {"type": "line", "strokeWidth": 1.8, "interpolate": "monotone"},
   "encoding": {
    "x": {"field": "x", "type": "quantitative", "scale": {"domain": [0, 6], "nice": false, "zero": false}, "axis": null},
    "y": {"field": "y", "type": "quantitative", "scale": {"domain": [0, 1.6], "range": [451, 10], "nice": false, "zero": false}, "axis": null},
    "color": {"datum": "Simulation", "type": "nominal"}}},
  {"data": {"name": "bb"}, "mark": {"type": "line", "strokeWidth": 1.8, "interpolate": "monotone"},
   "encoding": {
    "x": {"field": "x", "type": "quantitative", "scale": {"domain": [0, 6], "nice": false, "zero": false}, "axis": null},
    "y": {"field": "y", "type": "quantitative", "scale": {"domain": [0, 1.6], "range": [451, 10], "nice": false, "zero": false}, "axis": null},
    "color": {"datum": "Fit (1433 K)", "type": "nominal"}}}
 ]
}
]
}
